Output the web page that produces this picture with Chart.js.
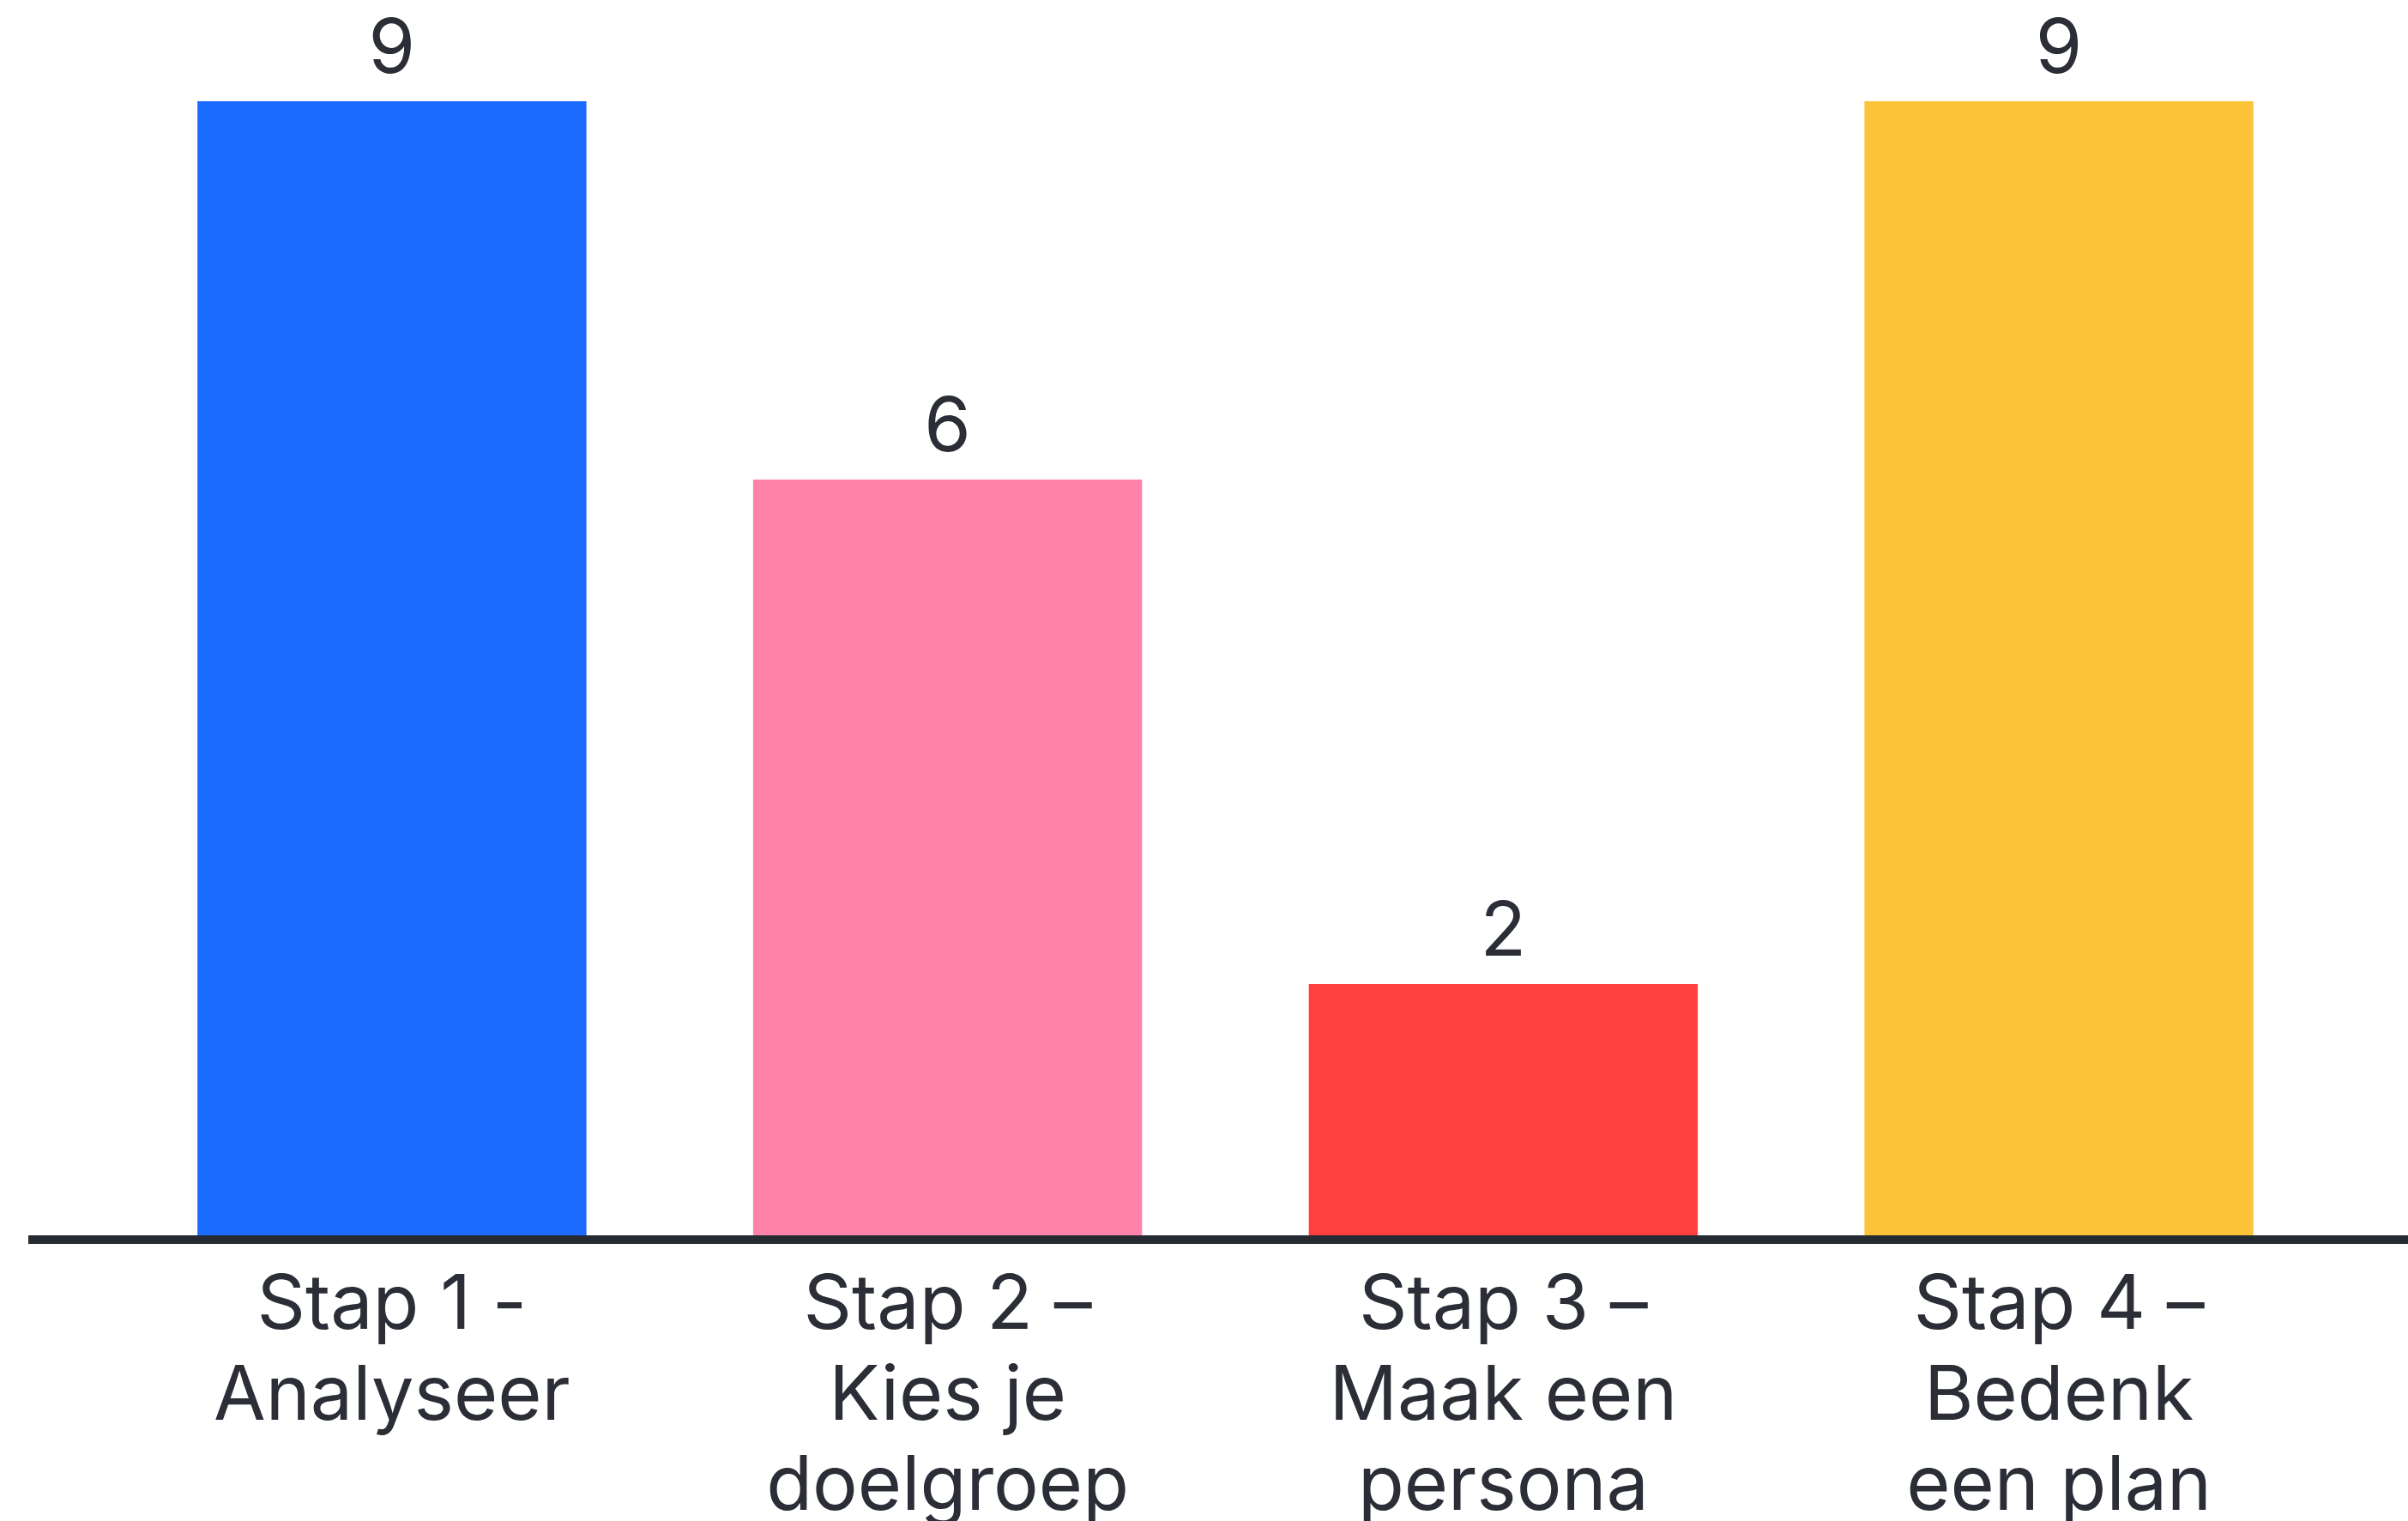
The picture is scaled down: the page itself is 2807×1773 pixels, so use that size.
<!DOCTYPE html>
<html>
<head>
<meta charset="utf-8">
<script src="https://cdn.jsdelivr.net/npm/chart.js@4.4.1/dist/chart.umd.min.js"></script>
<style>
  html, body { margin: 0; padding: 0; background: #fff; overflow: hidden; }
</style>
</head>
<body>
<canvas id="bar-chart" width="2807" height="1773"></canvas>
<script>
var categories = [
  ["Stap 1 -", "Analyseer"],
  ["Stap 2 \u2013", "Kies je", "doelgroep"],
  ["Stap 3 \u2013", "Maak een", "persona"],
  ["Stap 4 \u2013", "Bedenk", "een plan"]
];
var values = [9, 6, 2, 9];
var barColors = ["#1b6bff", "#ff82aa", "#ff403d", "#fdc43a"];

var textColor = "#2b2e36";

// baseline across the whole width + value labels above the bars
var extras = {
  id: 'extras',
  afterDatasetsDraw: function (chart) {
    var ctx = chart.ctx;
    var y0 = chart.scales.y.getPixelForValue(0);
    ctx.save();
    ctx.fillStyle = "#262a33";
    ctx.fillRect(33, y0 - 1, chart.width - 33, 10);

    ctx.fillStyle = textColor;
    ctx.font = "88px Inter";
    ctx.textAlign = "center";
    ctx.textBaseline = "alphabetic";
    chart.getDatasetMeta(0).data.forEach(function (bar, i) {
      ctx.fillText(String(values[i]), bar.x, bar.y - 33);
    });
    ctx.restore();
  }
};

new Chart(document.getElementById("bar-chart"), {
  type: 'bar',
  data: {
    labels: categories,
    datasets: [{
      data: values,
      backgroundColor: barColors,
      borderWidth: 0,
      barPercentage: 0.7,
      categoryPercentage: 1
    }]
  },
  options: {
    responsive: false,
    animation: false,
    devicePixelRatio: 1,
    layout: { padding: { top: 118, left: 133, right: 83, bottom: 0 } },
    plugins: {
      legend: { display: false },
      tooltip: { enabled: false }
    },
    scales: {
      y: {
        display: false,
        min: 0,
        max: 9
      },
      x: {
        grid: { display: false },
        border: { display: false },
        ticks: {
          color: textColor,
          font: { family: "Inter", size: 88, lineHeight: 1.2 },
          padding: 21,
          maxRotation: 0,
          autoSkip: false
        },
        afterFit: function (scale) { scale.height = 1773 - 1441; }
      }
    }
  },
  plugins: [extras]
});
</script>
</body>
</html>
